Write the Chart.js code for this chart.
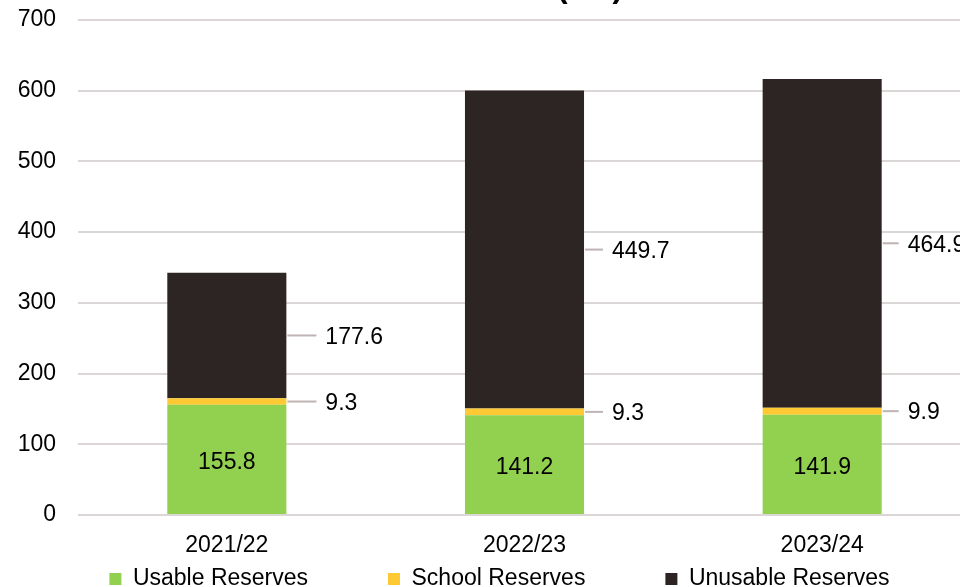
<!DOCTYPE html>
<html>
<head>
<meta charset="utf-8">
<script src="https://cdn.jsdelivr.net/npm/chart.js@4.4.1/dist/chart.umd.min.js"></script>
<style>
  html, body { margin: 0; padding: 0; background: #fff; overflow: hidden; }
  #wrap { width: 975px; height: 587px; position: relative; }
</style>
</head>
<body>
<div id="wrap"><canvas id="reservesChart"></canvas></div>
<script>
const years = ['2021/22', '2022/23', '2023/24'];
const usableReserves = [155.8, 141.2, 141.9];
const schoolReserves = [9.3, 9.3, 9.9];
const unusableReserves = [177.6, 449.7, 464.9];
const yTicks = [0, 100, 200, 300, 400, 500, 600, 700];

const FONT = '"Liberation Sans", Arial, sans-serif';
const FONT_SIZE = 23;
const LEADER = '#c0b3b3';
const LEGEND_GAP = 80;
// leader line length per column (px)
const leaderLength = [29, 18, 16];

// value labels: inside for the first series, with a short leader line for the others
const valueLabels = {
  id: 'valueLabels',
  afterDatasetsDraw(chart) {
    const ctx = chart.ctx;
    ctx.save();
    ctx.font = FONT_SIZE + 'px ' + FONT;
    ctx.fillStyle = '#000';
    ctx.textBaseline = 'middle';
    chart.data.datasets.forEach((ds, i) => {
      const meta = chart.getDatasetMeta(i);
      meta.data.forEach((bar, j) => {
        const text = ds.data[j].toFixed(1);
        const midY = (bar.y + bar.base) / 2;
        if (i === 0) {
          ctx.textAlign = 'center';
          ctx.fillText(text, bar.x, midY + 3);
        } else {
          const x0 = bar.x + bar.width / 2 + 1;
          const len = leaderLength[j];
          ctx.strokeStyle = LEADER;
          ctx.lineWidth = 2;
          ctx.beginPath();
          ctx.moveTo(x0, midY);
          ctx.lineTo(x0 + len, midY);
          ctx.stroke();
          ctx.textAlign = 'left';
          ctx.fillText(text, x0 + len + 9, midY + 2);
        }
      });
    });
    ctx.restore();
  }
};

// chart heading sits mostly above the top edge
const heading = {
  id: 'heading',
  afterDraw(chart) {
    const ctx = chart.ctx;
    ctx.save();
    ctx.font = 'bold 31px ' + FONT;
    ctx.fillStyle = '#000';
    ctx.textAlign = 'center';
    ctx.textBaseline = 'alphabetic';
    ctx.fillText('(£m)', 590, -3);
    ctx.restore();
  }
};

// keep the wide item spacing of the legend without the matching vertical padding
const legendRow = {
  id: 'legendRow',
  afterInit(chart) {
    const legend = chart.legend;
    const fit = legend.fit;
    legend.fit = function () {
      fit.call(this);
      this.height = 30;
    };
  },
  afterLayout(chart) {
    const legend = chart.legend;
    legend.top = chart.height - 8 - FONT_SIZE / 2 - LEGEND_GAP;
    legend.left += 14;
    legend.right += 14;
  }
};

new Chart(document.getElementById('reservesChart'), {
  type: 'bar',
  data: {
    labels: years,
    datasets: [
      { label: 'Usable Reserves', data: usableReserves, backgroundColor: '#92d050' },
      { label: 'School Reserves', data: schoolReserves, backgroundColor: '#ffc933' },
      { label: 'Unusable Reserves', data: unusableReserves, backgroundColor: '#2d2523' }
    ]
  },
  options: {
    responsive: true,
    maintainAspectRatio: false,
    animation: false,
    layout: { padding: { top: 20, right: 4, left: 0, bottom: 0 } },
    datasets: {
      bar: { categoryPercentage: 1, barPercentage: 0.4 }
    },
    scales: {
      x: {
        stacked: true,
        grid: { display: false, drawTicks: false },
        border: { display: false },
        afterFit(axis) { axis.height = 42; },
        ticks: { color: '#000', font: { family: FONT, size: FONT_SIZE }, padding: 17 }
      },
      y: {
        stacked: true,
        min: 0,
        max: 700,
        afterBuildTicks(axis) {
          axis.ticks = yTicks.map(v => ({ value: v }));
        },
        afterFit(axis) {
          axis.width = 78;
          axis.paddingTop = 0;
          axis.paddingBottom = 0;
        },
        grid: { color: '#dcd7d7', lineWidth: 2, drawTicks: false },
        border: { display: false },
        ticks: { color: '#000', font: { family: FONT, size: FONT_SIZE }, padding: 22 }
      }
    },
    plugins: {
      legend: {
        position: 'bottom',
        labels: {
          color: '#000',
          font: { family: FONT, size: FONT_SIZE },
          boxWidth: 12,
          boxHeight: 12,
          padding: LEGEND_GAP
        }
      },
      tooltip: { enabled: false }
    }
  },
  plugins: [valueLabels, heading, legendRow]
});
</script>
</body>
</html>
